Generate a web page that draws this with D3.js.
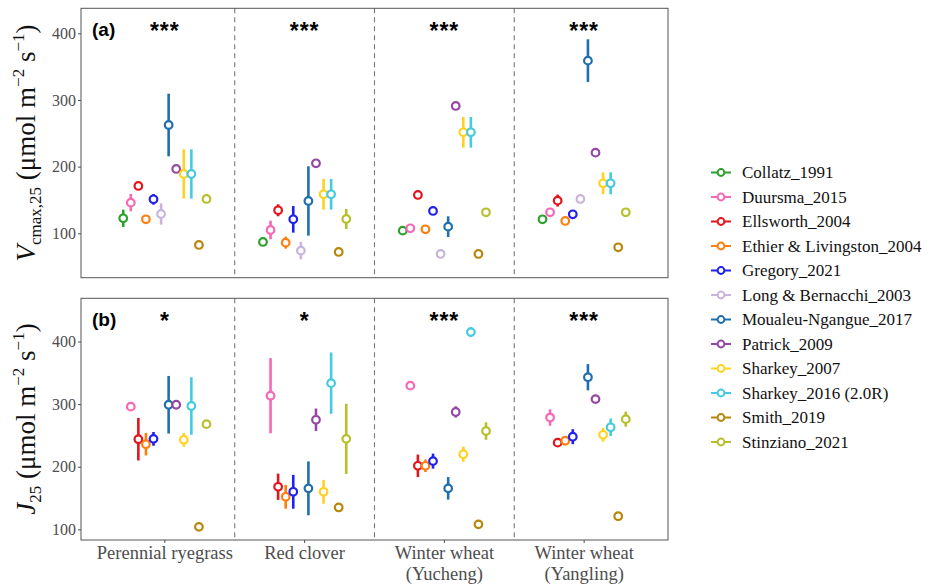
<!DOCTYPE html>
<html lang=en>
<head>
<meta charset="utf-8">
<script src="https://d3js.org/d3.v7.min.js"></script>
<style>
  body { margin: 0; background: #fff; }
  .tick text { font-family: 'Liberation Serif', serif; font-size: 16px; fill: #4d4d4d; }
  .tick line { stroke: #4d4d4d; }
  .frame { fill: none; stroke: #555; stroke-width: 1; }
  .sep { stroke: #777; stroke-dasharray: 5,4; stroke-width: 1.1; }
  .legend text { font-family: 'Liberation Serif', serif; font-size: 17px; fill: #111; }
</style>
</head>
<body>
<div id="chart"></div>
<script>
// crops (x axis)
var crops = ["Perennial ryegrass", "Red clover", "Winter wheat|(Yucheng)", "Winter wheat|(Yangling)"];
var studies = ["Collatz_1991", "Duursma_2015", "Ellsworth_2004", "Ethier & Livingston_2004", "Gregory_2021",
  "Long & Bernacchi_2003", "Moualeu-Ngangue_2017", "Patrick_2009", "Sharkey_2007", "Sharkey_2016 (2.0R)",
  "Smith_2019", "Stinziano_2021"];
var colors = ["#2ca02c", "#f768b4", "#e3141c", "#ff7f0e", "#2020f0", "#c8b4dc", "#1f6fb0", "#9447a4",
  "#ffd21f", "#45cbe0", "#b8860b", "#b5c02a"];

// Vcmax,25 means and half error bars, one row per study, one column per crop
var vcmax = [
  [122.5, 87, 104, 121],
  [146, 105, 107.5, 131.5],
  [171, 134.5, 157.5, 149],
  [121, 86, 106, 118.5],
  [151, 121, 133.5, 128.5],
  [129, 74, 69, 151.5],
  [262.5, 148.5, 110, 359],
  [196.5, 205, 291, 221],
  [189, 158.5, 251.5, 175],
  [189, 158.5, 251.5, 175],
  [82.5, 72, 69, 79],
  [151.5, 121.5, 131.5, 131.5]
];
var vcmaxErr = [
  [13, 6, 0, 0],
  [13, 14, 0, 0],
  [3, 9, 0, 9],
  [0, 9, 0, 0],
  [8, 20, 5, 3],
  [16, 13, 4, 0],
  [47, 52, 15.5, 32],
  [0, 0, 6, 0],
  [37, 23, 23, 16.5],
  [37, 23, 23, 16.5],
  [0, 0, 0, 0],
  [3, 15, 0, 0]
];
// J25 (Collatz and Long & Bernacchi have no J25)
var j25 = [
  [null, null, null, null],
  [296, 313.5, 329.5, 278.5],
  [244, 168, 201.5, 238.5],
  [236, 152, 201.5, 241.5],
  [244.5, 160, 209, 248],
  [null, null, null, null],
  [299, 165.5, 165.5, 343],
  [299, 275, 287.5, 308],
  [243, 160, 220, 251],
  [297, 333.5, 415, 263],
  [104, 135, 108, 121],
  [268, 244.5, 257, 276]
];
var j25Err = [
  [0, 0, 0, 0],
  [5, 60, 0, 13],
  [34, 21, 18, 7],
  [18, 19, 10, 3],
  [11, 27, 12, 12],
  [0, 0, 0, 0],
  [46, 43, 18, 21],
  [0, 18, 9, 0],
  [11, 19, 12, 11],
  [46, 49, 8, 14],
  [0, 0, 0, 0],
  [6, 56, 14, 12]
];
var vcmaxStars = ["***", "***", "***", "***"];
var jStars = ["*", "*", "***", "***"];
var yTicks = [100, 200, 300, 400];

var width = 936, height = 586;
var svg = d3.select("#chart").append("svg")
    .attr("width", width)
    .attr("height", height);

var left = 81, right = 668;
var x = d3.scaleLinear().domain([0.4, 4.6]).range([left, right]);
var dodge = 0.65 / studies.length;

function panel(top, bottom, yDomain, means, errs, stars, tag) {
  var y = d3.scaleLinear().domain(yDomain).range([bottom, top]);
  var g = svg.append("g");

  g.append("g")
      .attr("transform", "translate(" + left + ",0)")
      .call(d3.axisLeft(y).tickValues(yTicks).tickSize(3).tickPadding(2))
      .call(function(a) { a.select(".domain").remove(); });

  // dashed separators between crops
  g.selectAll(".sep")
      .data([1.5, 2.5, 3.5])
    .enter().append("line")
      .attr("class", "sep")
      .attr("x1", x).attr("x2", x)
      .attr("y1", top).attr("y2", bottom);

  var rows = [];
  means.forEach(function(r, i) {
    r.forEach(function(v, c) {
      if (v == null) return;
      rows.push({s: i, c: c, v: v, e: errs[i][c]});
    });
  });
  function px(d) { return x(d.c + 1 + (d.s - (studies.length - 1) / 2) * dodge); }

  g.selectAll(".err")
      .data(rows.filter(function(d) { return d.e > 0; }))
    .enter().append("line")
      .attr("x1", px).attr("x2", px)
      .attr("y1", function(d) { return y(d.v - d.e); })
      .attr("y2", function(d) { return y(d.v + d.e); })
      .attr("stroke", function(d) { return colors[d.s]; })
      .attr("stroke-width", 2.6);

  g.selectAll(".pt")
      .data(rows)
    .enter().append("circle")
      .attr("cx", px)
      .attr("cy", function(d) { return y(d.v); })
      .attr("r", 3.8)
      .attr("fill", "#fff")
      .attr("stroke", function(d) { return colors[d.s]; })
      .attr("stroke-width", 2.2);

  g.selectAll(".star")
      .data(stars)
    .enter().append("text")
      .attr("x", function(d, i) { return x(i + 1); })
      .attr("y", top + 31)
      .attr("text-anchor", "middle")
      .attr("font-family", "'Liberation Sans', Arial, sans-serif")
      .attr("font-weight", "bold")
      .attr("font-size", 23)
      .attr("letter-spacing", 1)
      .text(function(d) { return d; });

  g.append("text")
      .attr("x", left + 11)
      .attr("y", top + 28)
      .attr("font-family", "'Liberation Sans', Arial, sans-serif")
      .attr("font-weight", "bold")
      .attr("font-size", 19)
      .text(tag);

  g.append("rect")
      .attr("class", "frame")
      .attr("x", left).attr("y", top)
      .attr("width", right - left).attr("height", bottom - top);
  return y;
}

panel(8.3, 277.7, [33.4, 437.5], vcmax, vcmaxErr, vcmaxStars, "(a)");
panel(298.3, 540, [83, 469], j25, j25Err, jStars, "(b)");

// x tick marks and labels
var xt = svg.append("g");
xt.selectAll("line")
    .data(crops)
  .enter().append("line")
    .attr("x1", function(d, i) { return x(i + 1); })
    .attr("x2", function(d, i) { return x(i + 1); })
    .attr("y1", 540).attr("y2", 543)
    .attr("stroke", "#4d4d4d");
xt.selectAll("text")
    .data(crops)
  .enter().append("text")
    .attr("x", function(d, i) { return x(i + 1); })
    .attr("y", 559)
    .attr("text-anchor", "middle")
    .attr("font-family", "'Liberation Serif', serif")
    .attr("font-size", 18.5)
    .attr("fill", "#4d4d4d")
    .each(function(d) {
      var t = d3.select(this);
      d.split("|").forEach(function(s, k) {
        t.append("tspan").attr("x", t.attr("x")).attr("dy", k ? 21 : 0).text(s);
      });
    });

// y axis titles
function yTitle(cy, sym, sub) {
  var t = svg.append("text")
      .attr("transform", "translate(35," + cy + ") rotate(-90)")
      .attr("text-anchor", "middle")
      .attr("font-family", "'Liberation Serif', serif")
      .attr("font-size", 27)
      .attr("fill", "#111");
  t.append("tspan").attr("font-style", "italic").text(sym);
  t.append("tspan").attr("font-size", 17).attr("dy", 6).text(sub);
  t.append("tspan").attr("dy", -6).text(" (\u03bcmol m");
  t.append("tspan").attr("font-size", 17).attr("dy", -11).text("\u22122");
  t.append("tspan").attr("dy", 11).text(" s");
  t.append("tspan").attr("font-size", 17).attr("dy", -11).text("\u22121");
  t.append("tspan").attr("dy", 11).text(")");
}
yTitle(143, "V", "cmax,25");
yTitle(419, "J", "25");

// legend
var legend = svg.append("g")
    .attr("class", "legend")
  .selectAll("g")
    .data(studies)
  .enter().append("g")
    .attr("transform", function(d, i) { return "translate(711," + (172.5 + i * 24.5) + ")"; });
legend.append("line")
    .attr("x1", 0).attr("x2", 20)
    .attr("stroke", function(d, i) { return colors[i]; })
    .attr("stroke-width", 2);
legend.append("circle")
    .attr("cx", 10).attr("r", 3.4)
    .attr("fill", "#fff")
    .attr("stroke", function(d, i) { return colors[i]; })
    .attr("stroke-width", 2);
legend.append("text")
    .attr("x", 31)
    .attr("dy", "0.34em")
    .text(function(d) { return d; });
</script>
</body>
</html>
